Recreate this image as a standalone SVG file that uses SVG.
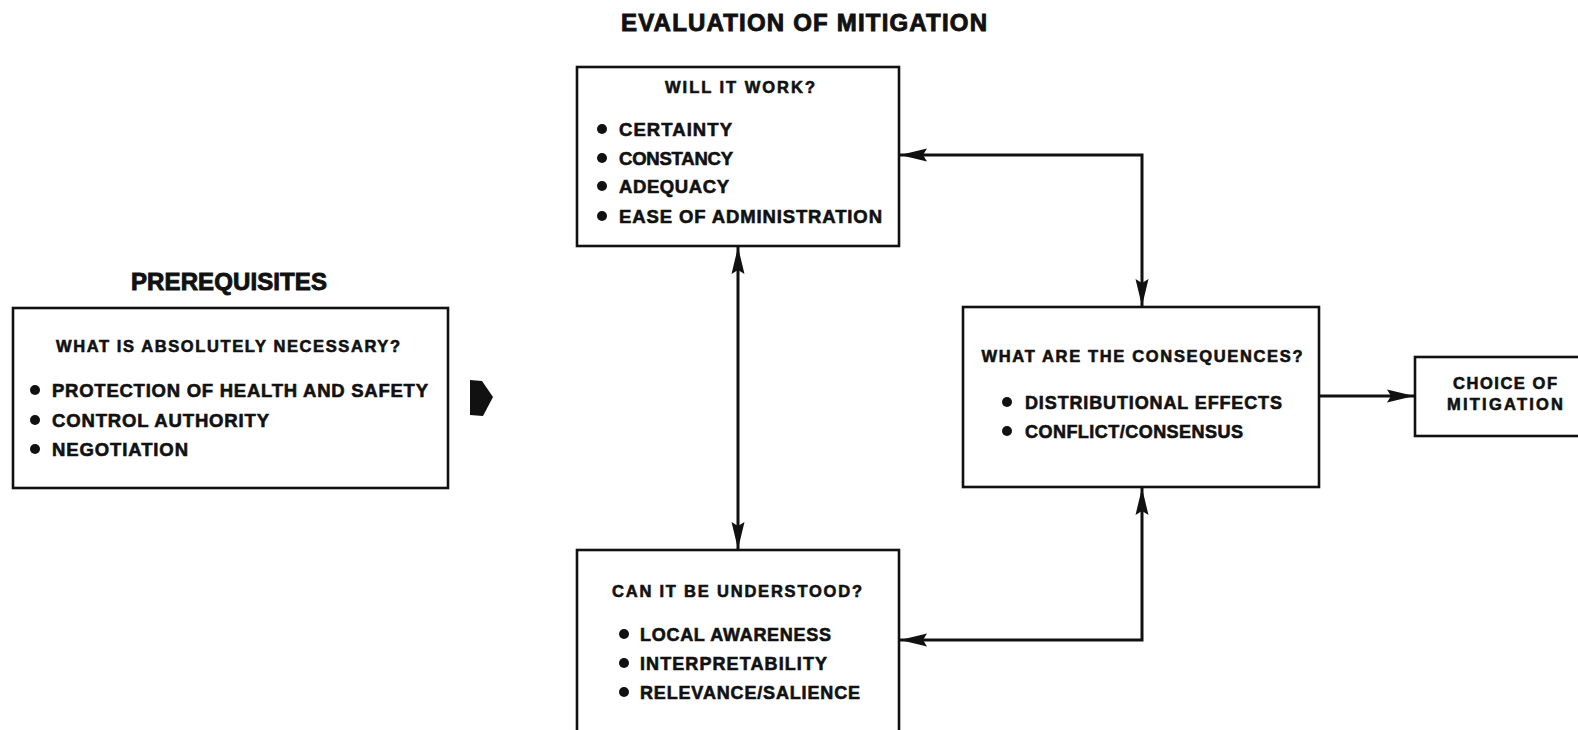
<svg xmlns="http://www.w3.org/2000/svg" width="1578" height="730" viewBox="0 0 1578 730">
<style>
.box{fill:#fff;stroke:#111;stroke-width:2.6}
.t{font-family:"Liberation Sans",Arial,sans-serif;font-weight:bold;fill:#111;stroke:#111;stroke-width:0.6}
.title{font-size:24px;stroke-width:0.9}
.hd{font-size:16.5px}
.bl{font-size:18.5px}
.bm{font-size:18px}
.dot{fill:#111}
.conn{fill:none;stroke:#111;stroke-width:3}
</style>
<defs>
<marker id="ah" markerUnits="userSpaceOnUse" markerWidth="28" markerHeight="16" refX="27" refY="8" orient="auto-start-reverse">
<path d="M0,1.5 L27,8 L0,14.5 L4,8 z" fill="#111"/>
</marker>
</defs>
<rect width="1578" height="730" fill="#fff"/>

<text class="t title" x="804" y="31" text-anchor="middle" textLength="366">EVALUATION OF MITIGATION</text>
<text class="t title" x="229" y="290" text-anchor="middle" font-size="22" textLength="196">PREREQUISITES</text>

<g id="prerequisites">
<rect class="box" x="13" y="308" width="435" height="180"/>
<text class="t hd" x="228" y="352" text-anchor="middle" textLength="344">WHAT IS ABSOLUTELY NECESSARY?</text>
<circle class="dot" cx="35" cy="390" r="5"/>
<text class="t bl" x="52" y="397" textLength="376">PROTECTION OF HEALTH AND SAFETY</text>
<circle class="dot" cx="35" cy="420" r="5"/>
<text class="t bl" x="52" y="427" textLength="217">CONTROL AUTHORITY</text>
<circle class="dot" cx="35" cy="449" r="5"/>
<text class="t bl" x="52" y="456" textLength="136">NEGOTIATION</text>
</g>

<g id="prereq-arrow">
<polygon points="470,380 482,381 493,397 483,416 470,415" fill="#111"/>
</g>

<g id="will-it-work">
<rect class="box" x="577" y="67" width="322" height="179"/>
<text class="t hd" x="740" y="93" text-anchor="middle" textLength="150">WILL IT WORK?</text>
<circle class="dot" cx="602" cy="129" r="5"/>
<text class="t bl" x="619" y="136" textLength="113">CERTAINTY</text>
<circle class="dot" cx="602" cy="158" r="5"/>
<text class="t bl" x="619" y="165" textLength="114">CONSTANCY</text>
<circle class="dot" cx="602" cy="186" r="5"/>
<text class="t bl" x="619" y="193" textLength="110">ADEQUACY</text>
<circle class="dot" cx="602" cy="216" r="5"/>
<text class="t bl" x="619" y="223" textLength="263">EASE OF ADMINISTRATION</text>
</g>

<g id="consequences">
<rect class="box" x="963" y="307" width="356" height="180"/>
<text class="t hd" x="1142" y="362" text-anchor="middle" textLength="321">WHAT ARE THE CONSEQUENCES?</text>
<circle class="dot" cx="1007" cy="402" r="5"/>
<text class="t bm" x="1025" y="409" textLength="257">DISTRIBUTIONAL EFFECTS</text>
<circle class="dot" cx="1007" cy="431" r="5"/>
<text class="t bm" x="1025" y="438" textLength="218">CONFLICT/CONSENSUS</text>
</g>

<g id="understood">
<rect class="box" x="577" y="550" width="322" height="190"/>
<text class="t hd" x="737" y="597" text-anchor="middle" textLength="250">CAN IT BE UNDERSTOOD?</text>
<circle class="dot" cx="624" cy="634" r="5"/>
<text class="t bm" x="640" y="641" textLength="191">LOCAL AWARENESS</text>
<circle class="dot" cx="624" cy="663" r="5"/>
<text class="t bm" x="640" y="670" textLength="187">INTERPRETABILITY</text>
<circle class="dot" cx="624" cy="692" r="5"/>
<text class="t bm" x="640" y="699" textLength="220">RELEVANCE/SALIENCE</text>
</g>

<g id="choice">
<rect class="box" x="1415" y="357" width="175" height="79"/>
<text class="t hd" x="1505" y="389" text-anchor="middle" textLength="104">CHOICE OF</text>
<text class="t hd" x="1505" y="410" text-anchor="middle" textLength="116">MITIGATION</text>
</g>

<g id="connectors">
<path class="conn" d="M900,155 H1142 V306" marker-start="url(#ah)" marker-end="url(#ah)"/>
<path class="conn" d="M738,247 V549" marker-start="url(#ah)" marker-end="url(#ah)"/>
<path class="conn" d="M900,640 H1142 V488" marker-start="url(#ah)" marker-end="url(#ah)"/>
<path class="conn" d="M1320,396 H1414" marker-end="url(#ah)"/>
</g>
</svg>
